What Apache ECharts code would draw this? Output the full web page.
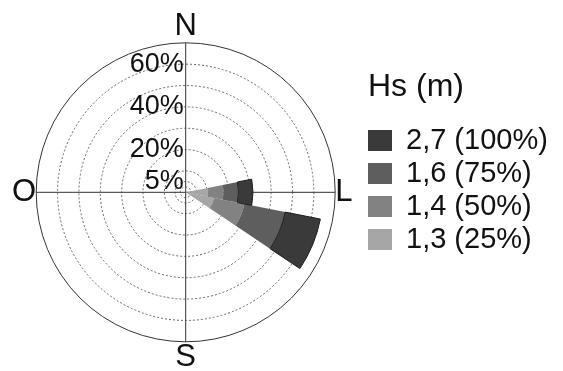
<!DOCTYPE html>
<html>
<head>
<meta charset="utf-8">
<script src="https://cdn.jsdelivr.net/npm/echarts@6/dist/echarts.min.js"></script>
<style>
  html, body { margin: 0; padding: 0; background: #fff; }
  #chart { width: 563px; height: 371px; }
</style>
</head>
<body>
<div id="chart"></div>
<script>
// 16 direction sectors, starting at north, clockwise
const directions = ["N", "NNE", "NE", "ENE", "E", "ESE", "SE", "SSE",
  "S", "SSW", "SW", "WSW", "W", "WNW", "NW", "NNW"];
const compassLabels = { 0: "N", 90: "L", 180: "S", 270: "O" };
const ringValues = [2.5, 5, 10, 20, 30, 40, 50, 60];
const ringLabels = [5, 20, 40, 60];
const classNames = ["1,3 (25%)", "1,4 (50%)", "1,6 (75%)", "2,7 (100%)"];
const classColors = ["#a6a6a6", "#828282", "#5e5e5e", "#3a3a3a"];
// frequency (%) of each height class per direction, stacked outward
const hs13 = [0, 0, 0, 0, 10.5, 13.5, 0, 0, 0, 0, 0, 0, 0, 0, 0, 0];
const hs14 = [0, 0, 0, 0, 7.2, 14.5, 0, 0, 0, 0, 0, 0, 0, 0, 0, 0];
const hs16 = [0, 0, 0, 0, 7.0, 19.5, 0, 0, 0, 0, 0, 0, 0, 0, 0, 0];
const hs27 = [0, 0, 0, 0, 6.8, 16.8, 0, 0, 0, 0, 0, 0, 0, 0, 0, 0];
const classData = [hs13, hs14, hs16, hs27];

const font = "Liberation Sans, Arial, sans-serif";
const chart = echarts.init(document.getElementById("chart"));

const center = [185.7, 192.3];
const radius = 149.5;

const series = classNames.map(function (name, i) {
  return {
    name: name,
    type: "bar",
    coordinateSystem: "polar",
    polarIndex: 1,
    stack: "hs",
    barCategoryGap: "0%",
    data: classData[i],
    itemStyle: {
      color: classColors[i],
      borderColor: i === 3 ? "#1e1e1e" : classColors[i],
      borderWidth: i === 3 ? 1 : 0
    },
    emphasis: { disabled: true }
  };
});

const option = {
  animation: false,
  textStyle: { fontFamily: font },
  title: {
    text: "Hs (m)",
    left: 363,
    top: 66,
    textStyle: { fontFamily: font, fontSize: 32, fontWeight: "normal", color: "#111" }
  },
  legend: {
    orient: "vertical",
    left: 363,
    top: 119,
    itemWidth: 24,
    itemHeight: 21,
    itemGap: 0,
    icon: "rect",
    data: classNames.slice().reverse(),
    selectedMode: false,
    itemStyle: { borderWidth: 0 },
    textStyle: {
      fontFamily: font, fontSize: 29, color: "#111",
      lineHeight: 33, padding: [0, 0, 0, 9]
    }
  },
  polar: [
    { center: center, radius: radius },
    { center: center, radius: radius }
  ],
  angleAxis: [
    {
      polarIndex: 0,
      type: "value",
      min: 0,
      max: 360,
      interval: 90,
      startAngle: 90,
      clockwise: true,
      axisLine: { lineStyle: { color: "#333", width: 1 } },
      axisTick: { show: false },
      splitLine: { show: true, lineStyle: { color: "#333", width: 1 } },
      axisLabel: {
        margin: 0,
        fontFamily: font,
        fontSize: 31,
        lineHeight: 32,
        color: "#111",
        formatter: function (v) { return compassLabels[v] || ""; }
      },
      z: 1
    },
    {
      polarIndex: 1,
      type: "category",
      data: directions,
      startAngle: 90 + 360 / 32,
      clockwise: true,
      boundaryGap: true,
      axisLine: { show: false },
      axisTick: { show: false },
      axisLabel: { show: false },
      splitLine: { show: false }
    }
  ],
  radiusAxis: [
    {
      polarIndex: 0,
      type: "value",
      min: 0,
      max: 70,
      axisLine: { show: false },
      axisTick: { show: false, customValues: ringValues },
      splitLine: { show: true, lineStyle: { color: "#666", width: 1, type: [2, 2] } },
      axisLabel: {
        customValues: ringLabels,
        formatter: "{value}%",
        fontFamily: font,
        fontSize: 27,
        color: "#111",
        margin: 2
      },
      z: 1
    },
    {
      polarIndex: 1,
      type: "value",
      min: 0,
      max: 70,
      axisLine: { show: false },
      axisTick: { show: false },
      axisLabel: { show: false },
      splitLine: { show: false }
    }
  ],
  series: series
};

chart.setOption(option);
</script>
</body>
</html>
